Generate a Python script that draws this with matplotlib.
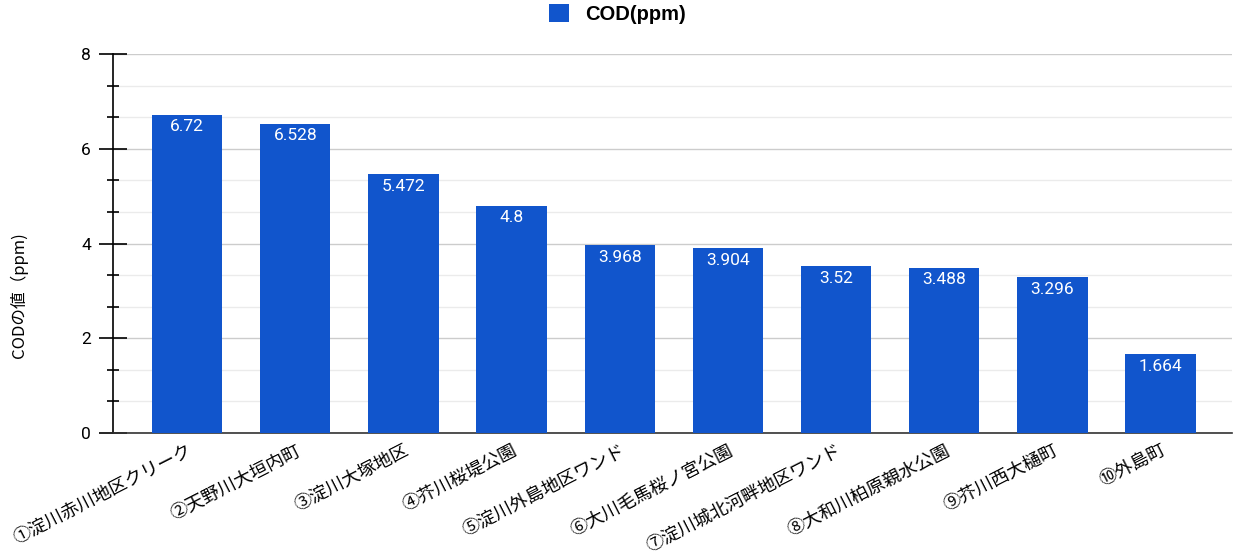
import matplotlib.pyplot as plt
import numpy as np

plt.rcParams['font.family'] = ['Noto Sans CJK JP', 'DejaVu Sans']

sites = ["①淀川赤川地区クリーク", "②天野川大垣内町", "③淀川大塚地区", "④芥川桜堤公園",
         "⑤淀川外島地区ワンド", "⑥大川毛馬桜ノ宮公園", "⑦淀川城北河畔地区ワンド",
         "⑧大和川柏原親水公園", "⑨芥川西大樋町", "⑩外島町"]
cod = [6.72, 6.528, 5.472, 4.8, 3.968, 3.904, 3.52, 3.488, 3.296, 1.664]
value_labels = ["6.72", "6.528", "5.472", "4.8", "3.968", "3.904", "3.52", "3.488", "3.296", "1.664"]

BLUE = "#1155cc"

fig = plt.figure(figsize=(12.34, 5.54), dpi=100)
ax = fig.add_axes([113 / 1234, 1 - 433 / 554, (1232 - 113) / 1234, (433 - 54) / 554])

x = np.arange(len(sites))
bars = ax.bar(x, cod, width=0.65, color=BLUE, zorder=3, label="COD(ppm)")

for xi, val, lab in zip(x, cod, value_labels):
    ax.text(xi, val - 0.1, lab, ha="center", va="top", color="white", fontsize=12.5,
            family=["Roboto"], zorder=4)

ax.set_xlim(-0.685, 9.66)
ax.set_ylim(0, 8)
ax.set_yticks([0, 2, 4, 6, 8])
ax.set_yticks(np.arange(0, 8.01, 2 / 3), minor=True)
ax.tick_params(axis="y", which="major", direction="inout", length=20, width=1.2, pad=6)
ax.tick_params(axis="y", which="minor", direction="inout", length=9, width=1.2)
for t in ax.get_yticklabels():
    t.set_fontfamily(["Roboto"])
    t.set_fontsize(12.5)
ax.grid(True, axis="y", which="major", color="#cccccc", linewidth=1, zorder=0)
ax.grid(True, axis="y", which="minor", color="#ebebeb", linewidth=1, zorder=0)

ax.set_xticks(x)
ax.set_xticklabels(sites, rotation=27, ha="right", rotation_mode="anchor", fontsize=13)
ax.tick_params(axis="x", length=0, pad=6)

for s in ["top", "right"]:
    ax.spines[s].set_visible(False)
ax.spines["left"].set_linewidth(1.2)
ax.spines["bottom"].set_color("#333333")
ax.spines["bottom"].set_linewidth(1.2)

ax.set_ylabel("CODの値（ppm)", fontsize=12)
ax.yaxis.set_label_coords(-0.076, 0.364)

leg = fig.legend(handles=[bars], labels=["COD(ppm)"], loc="upper center",
                 bbox_to_anchor=(0.5, 1.025), frameon=False, handlelength=1.0, handleheight=1.0,
                 prop={"family": ["Liberation Sans"], "weight": "bold", "size": 14.5})

plt.savefig("out.png", dpi=100, facecolor="white")
